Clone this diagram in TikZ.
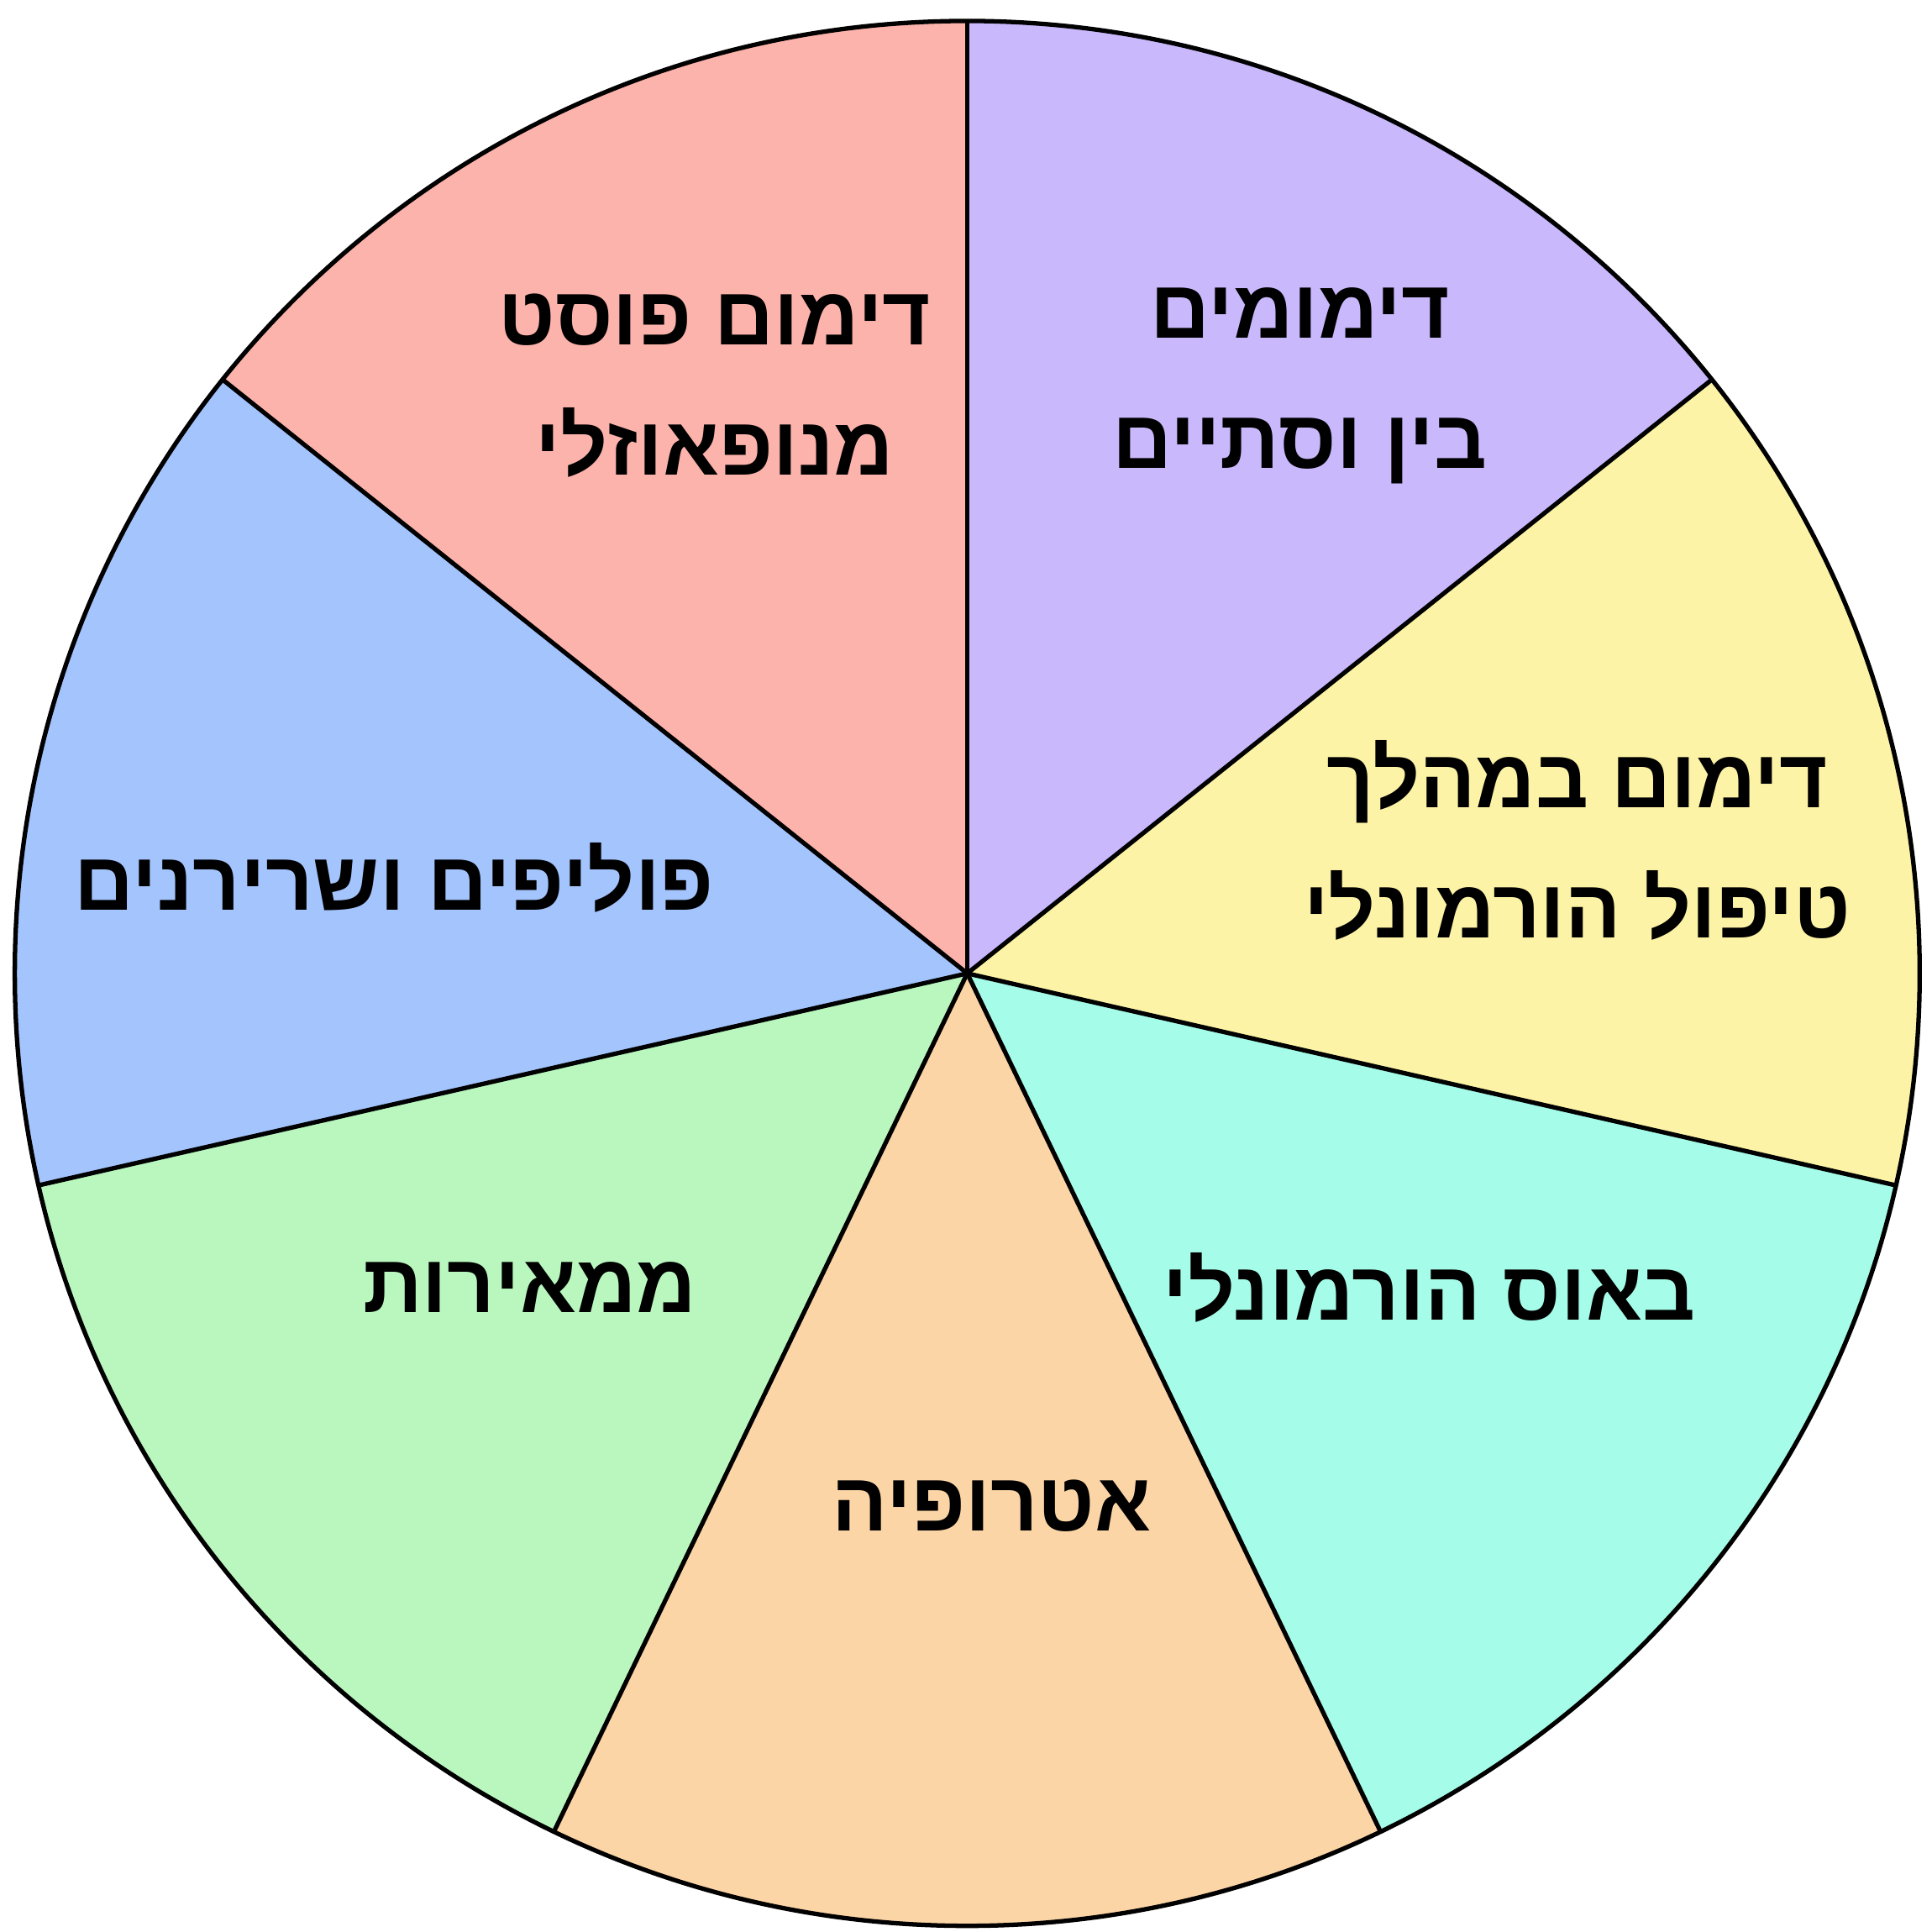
\documentclass[tikz,border=0pt]{standalone}
\usepackage{fontspec}
\newfontfamily\hebfont[Script=Hebrew]{Liberation Sans}
\TeXXeTstate=1
\definecolor{cpur}{HTML}{C9B8FC}
\definecolor{cyel}{HTML}{FCF3A6}
\definecolor{ccya}{HTML}{A5FCE8}
\definecolor{cora}{HTML}{FCD5A6}
\definecolor{cgre}{HTML}{B9F7BF}
\definecolor{cblu}{HTML}{A3C4FC}
\definecolor{cpin}{HTML}{FCB3AB}
\begin{document}
\begin{tikzpicture}[x=0.014668cm,y=-0.014668cm,
  lbl/.style={font=\hebfont\bfseries\fontsize{28}{44}\selectfont,align=center}]
\useasboundingbox (0,0) rectangle (1568,1568);
\coordinate (c) at (785,790);
\def\R{773}
\foreach \a/\col in {-90/cpur,-38.571/cyel,12.857/ccya,64.286/cora,115.714/cgre,167.143/cblu,218.571/cpin}{
  \fill[\col] (c) -- ++(\a:\R) arc[start angle=\a, delta angle=51.4286, radius=\R] -- cycle;
}
\foreach \a in {-90,-38.571,12.857,64.286,115.714,167.143,218.571}{
  \draw[line width=1.5pt] (c) -- ++(\a:\R);
}
\draw[line width=1.5pt] (c) circle[radius=\R];
\node[lbl] (t1) at (1055,313) {\beginR דימומים\endR\\\beginR בין וסתיים\endR};
\node[lbl] (t2) at (1280,682) {\beginR דימום במהלך\endR\\\beginR טיפול הורמונלי\endR};
\node[lbl] (t3) at (1160,1045) {\beginR באוס הורמונלי\endR};
\node[lbl] (t4) at (805,1222) {\beginR אטרופיה\endR};
\node[lbl] (t5) at (430,1045) {\beginR ממאירות\endR};
\node[lbl] (t6) at (320,712) {\beginR פוליפים ושרירנים\endR};
\node[lbl] (t7) at (580,313) {\beginR דימום פוסט\endR\\\beginR מנופאוזלי\endR};
\end{tikzpicture}
\end{document}
